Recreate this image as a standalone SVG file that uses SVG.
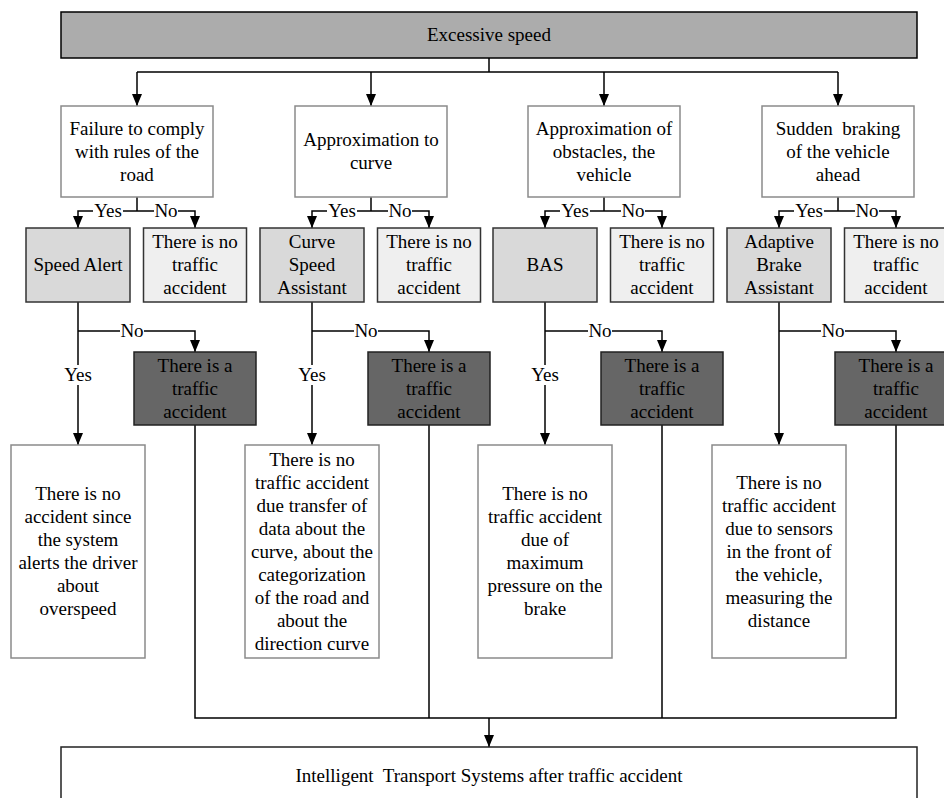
<svg xmlns="http://www.w3.org/2000/svg" width="944" height="798" viewBox="0 0 944 798">
<defs>
<marker id="ah" viewBox="0 0 12 10" refX="12" refY="5" markerWidth="12" markerHeight="10" markerUnits="userSpaceOnUse" orient="auto">
<path d="M0,0 L12,5 L0,10 z" fill="#000"/>
</marker>
<style>
text{font-family:"Liberation Serif","Times New Roman",serif;font-size:19px;fill:#000;text-anchor:middle}
.top{fill:#acacac;stroke:#000;stroke-width:1.5}
.q{fill:#fff;stroke:#8a8a8a;stroke-width:1.5}
.sys{fill:#d9d9d9;stroke:#333;stroke-width:1.5}
.no{fill:#efefef;stroke:#333;stroke-width:1.5}
.acc{fill:#666;stroke:#222;stroke-width:1.5}
.res{fill:#fff;stroke:#8a8a8a;stroke-width:1.5}
.bot{fill:#fff;stroke:#222;stroke-width:1.5}
.ln{fill:none;stroke:#000;stroke-width:1.5}
.ar{fill:none;stroke:#000;stroke-width:1.5;marker-end:url(#ah)}
.lb{fill:#fff;stroke:none}
</style>
</defs>

<g id="connectors">
<path class="ln" d="M489,58 V72 M137,72 H838"/>
<path class="ar" d="M137,72 V106"/>
<path class="ar" d="M371,72 V106"/>
<path class="ar" d="M604,72 V106"/>
<path class="ar" d="M838,72 V106"/>
<path class="ln" d="M137,197 V211"/>
<path class="ar" d="M137,211 H78 V228"/>
<path class="ar" d="M137,211 H195 V228"/>
<path class="ar" d="M78,302 V445"/>
<path class="ar" d="M78,331 H195 V352"/>
<path class="ln" d="M371,197 V211"/>
<path class="ar" d="M371,211 H312 V228"/>
<path class="ar" d="M371,211 H429 V228"/>
<path class="ar" d="M312,302 V445"/>
<path class="ar" d="M312,331 H429 V352"/>
<path class="ln" d="M604,197 V211"/>
<path class="ar" d="M604,211 H545 V228"/>
<path class="ar" d="M604,211 H662 V228"/>
<path class="ar" d="M545,302 V445"/>
<path class="ar" d="M545,331 H662 V352"/>
<path class="ln" d="M838,197 V211"/>
<path class="ar" d="M838,211 H779 V228"/>
<path class="ar" d="M838,211 H896 V228"/>
<path class="ar" d="M779,302 V445"/>
<path class="ar" d="M779,331 H896 V352"/>
<path class="ln" d="M195,425 V718 H896 V425 M429,425 V718 M662,425 V718"/>
<path class="ar" d="M489,718 V747"/>
<g id="labels">
<rect class="lb" x="93" y="201" width="30" height="20"/><text x="108" y="217">Yes</text>
<rect class="lb" x="154" y="201" width="24" height="20"/><text x="166" y="217">No</text>
<rect class="lb" x="327" y="201" width="30" height="20"/><text x="342" y="217">Yes</text>
<rect class="lb" x="388" y="201" width="24" height="20"/><text x="400" y="217">No</text>
<rect class="lb" x="560" y="201" width="30" height="20"/><text x="575" y="217">Yes</text>
<rect class="lb" x="621" y="201" width="24" height="20"/><text x="633" y="217">No</text>
<rect class="lb" x="794" y="201" width="30" height="20"/><text x="809" y="217">Yes</text>
<rect class="lb" x="855" y="201" width="24" height="20"/><text x="867" y="217">No</text>
<rect class="lb" x="120" y="321" width="24" height="20"/><text x="132" y="337">No</text>
<rect class="lb" x="354" y="321" width="24" height="20"/><text x="366" y="337">No</text>
<rect class="lb" x="588" y="321" width="24" height="20"/><text x="600" y="337">No</text>
<rect class="lb" x="821" y="321" width="24" height="20"/><text x="833" y="337">No</text>
<rect class="lb" x="63" y="365" width="30" height="20"/><text x="78" y="381">Yes</text>
<rect class="lb" x="297" y="365" width="30" height="20"/><text x="312" y="381">Yes</text>
<rect class="lb" x="530" y="365" width="30" height="20"/><text x="545" y="381">Yes</text>
</g>
</g>

<g id="excessive-speed">
<rect class="top" x="61" y="12" width="856" height="46"/>
<text x="489" y="41">Excessive speed</text>
</g>

<g id="q1">
<rect class="q" x="61" y="106" width="152" height="91"/>
<text><tspan x="137" y="134.5">Failure to comply</tspan><tspan x="137" y="157.5">with rules of the</tspan><tspan x="137" y="180.5">road</tspan></text>
</g>
<g id="q2">
<rect class="q" x="295" y="106" width="152" height="91"/>
<text><tspan x="371" y="146">Approximation to</tspan><tspan x="371" y="169">curve</tspan></text>
</g>
<g id="q3">
<rect class="q" x="528" y="106" width="152" height="91"/>
<text><tspan x="604" y="134.5">Approximation of</tspan><tspan x="604" y="157.5">obstacles, the</tspan><tspan x="604" y="180.5">vehicle</tspan></text>
</g>
<g id="q4">
<rect class="q" x="762" y="106" width="152" height="91"/>
<text><tspan x="838" y="134.5">Sudden&#160; braking</tspan><tspan x="838" y="157.5">of the vehicle</tspan><tspan x="838" y="180.5">ahead</tspan></text>
</g>

<g id="speed-alert">
<rect class="sys" x="26" y="228" width="104" height="74"/>
<text x="78" y="271">Speed Alert</text>
</g>
<g id="curve-speed-assistant">
<rect class="sys" x="260" y="228" width="104" height="74"/>
<text><tspan x="312" y="248">Curve</tspan><tspan x="312" y="271">Speed</tspan><tspan x="312" y="294">Assistant</tspan></text>
</g>
<g id="bas">
<rect class="sys" x="493" y="228" width="104" height="74"/>
<text x="545" y="271">BAS</text>
</g>
<g id="adaptive-brake-assistant">
<rect class="sys" x="727" y="228" width="104" height="74"/>
<text><tspan x="779" y="248">Adaptive</tspan><tspan x="779" y="271">Brake</tspan><tspan x="779" y="294">Assistant</tspan></text>
</g>

<g id="no-accident-1">
<rect class="no" x="143.5" y="228" width="103" height="74"/>
<text><tspan x="195" y="248">There is no</tspan><tspan x="195" y="271">traffic</tspan><tspan x="195" y="294">accident</tspan></text>
</g>
<g id="no-accident-2">
<rect class="no" x="377.5" y="228" width="103" height="74"/>
<text><tspan x="429" y="248">There is no</tspan><tspan x="429" y="271">traffic</tspan><tspan x="429" y="294">accident</tspan></text>
</g>
<g id="no-accident-3">
<rect class="no" x="610.5" y="228" width="103" height="74"/>
<text><tspan x="662" y="248">There is no</tspan><tspan x="662" y="271">traffic</tspan><tspan x="662" y="294">accident</tspan></text>
</g>
<g id="no-accident-4">
<rect class="no" x="844.5" y="228" width="103" height="74"/>
<text><tspan x="896" y="248">There is no</tspan><tspan x="896" y="271">traffic</tspan><tspan x="896" y="294">accident</tspan></text>
</g>

<g id="accident-1">
<rect class="acc" x="134" y="352" width="122" height="73"/>
<text><tspan x="195" y="371.5">There is a</tspan><tspan x="195" y="394.5">traffic</tspan><tspan x="195" y="417.5">accident</tspan></text>
</g>
<g id="accident-2">
<rect class="acc" x="368" y="352" width="122" height="73"/>
<text><tspan x="429" y="371.5">There is a</tspan><tspan x="429" y="394.5">traffic</tspan><tspan x="429" y="417.5">accident</tspan></text>
</g>
<g id="accident-3">
<rect class="acc" x="601" y="352" width="122" height="73"/>
<text><tspan x="662" y="371.5">There is a</tspan><tspan x="662" y="394.5">traffic</tspan><tspan x="662" y="417.5">accident</tspan></text>
</g>
<g id="accident-4">
<rect class="acc" x="835" y="352" width="122" height="73"/>
<text><tspan x="896" y="371.5">There is a</tspan><tspan x="896" y="394.5">traffic</tspan><tspan x="896" y="417.5">accident</tspan></text>
</g>

<g id="result-1">
<rect class="res" x="11" y="445" width="134" height="213"/>
<text><tspan x="78" y="500">There is no</tspan><tspan x="78" y="523">accident since</tspan><tspan x="78" y="546">the system</tspan><tspan x="78" y="569">alerts the driver</tspan><tspan x="78" y="592">about</tspan><tspan x="78" y="615">overspeed</tspan></text>
</g>
<g id="result-2">
<rect class="res" x="245" y="445" width="134" height="213"/>
<text><tspan x="312" y="465.5">There is no</tspan><tspan x="312" y="488.5">traffic accident</tspan><tspan x="312" y="511.5">due transfer of</tspan><tspan x="312" y="534.5">data about the</tspan><tspan x="312" y="557.5">curve, about the</tspan><tspan x="312" y="580.5">categorization</tspan><tspan x="312" y="603.5">of the road and</tspan><tspan x="312" y="626.5">about the</tspan><tspan x="312" y="649.5">direction curve</tspan></text>
</g>
<g id="result-3">
<rect class="res" x="478" y="445" width="134" height="213"/>
<text><tspan x="545" y="500">There is no</tspan><tspan x="545" y="523">traffic accident</tspan><tspan x="545" y="546">due of</tspan><tspan x="545" y="569">maximum</tspan><tspan x="545" y="592">pressure on the</tspan><tspan x="545" y="615">brake</tspan></text>
</g>
<g id="result-4">
<rect class="res" x="712" y="445" width="134" height="213"/>
<text><tspan x="779" y="488.5">There is no</tspan><tspan x="779" y="511.5">traffic accident</tspan><tspan x="779" y="534.5">due to sensors</tspan><tspan x="779" y="557.5">in the front of</tspan><tspan x="779" y="580.5">the vehicle,</tspan><tspan x="779" y="603.5">measuring the</tspan><tspan x="779" y="626.5">distance</tspan></text>
</g>

<g id="its">
<rect class="bot" x="61" y="747" width="856" height="70"/>
<text x="489" y="782">Intelligent&#160; Transport Systems after traffic accident</text>
</g>
</svg>
